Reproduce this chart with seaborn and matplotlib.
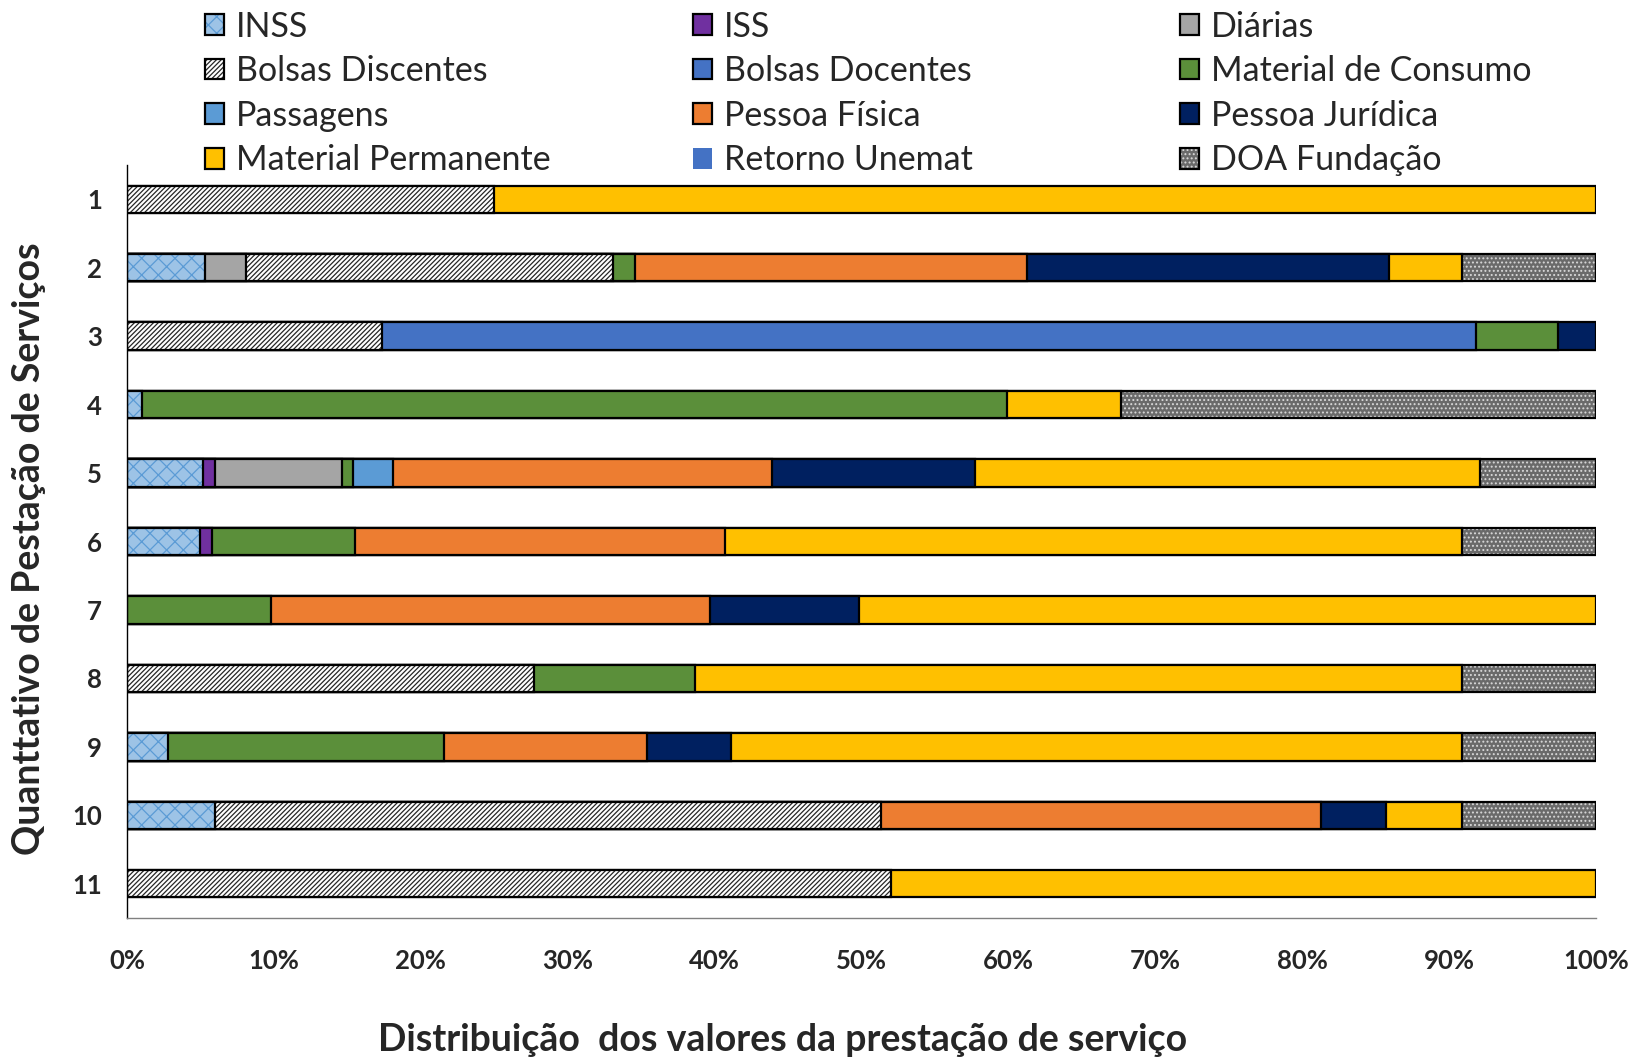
import matplotlib
matplotlib.use("Agg")
import matplotlib.pyplot as plt
from matplotlib.patches import Patch
from matplotlib.legend_handler import HandlerTuple
from matplotlib.ticker import PercentFormatter
import numpy as np
import pandas as pd
import seaborn as sns

# linhas do grafico (quantitativo de prestacao de servicos)
linhas = [str(i) for i in range(1, 12)]

# valores em % de cada rubrica, por linha
inss = [0, 5.3, 0, 1.0, 5.2, 5.0, 0, 0, 2.8, 6.0, 0]
iss = [0, 0, 0, 0, 0.8, 0.8, 0, 0, 0, 0, 0]
diarias = [0, 2.8, 0, 0, 8.6, 0, 0, 0, 0, 0, 0]
bolsas_discentes = [25.0, 25.0, 17.4, 0, 0, 0, 0, 27.7, 0, 45.3, 52.0]
bolsas_docentes = [0, 0, 74.5, 0, 0, 0, 0, 0, 0, 0, 0]
material_consumo = [0, 1.5, 5.6, 58.9, 0.8, 9.7, 9.8, 10.9, 18.8, 0, 0]
passagens = [0, 0, 0, 0, 2.7, 0, 0, 0, 0, 0, 0]
pessoa_fisica = [0, 26.7, 0, 0, 25.8, 25.2, 29.9, 0, 13.8, 30.0, 0]
pessoa_juridica = [0, 24.6, 2.6, 0, 13.8, 0, 10.1, 0, 5.7, 4.4, 0]
material_permanente = [75.0, 5.0, 0, 7.8, 34.4, 50.2, 50.2, 52.2, 49.8, 5.2, 48.0]
retorno_unemat = [0, 0, 0, 0, 0, 0, 0, 0, 0, 0, 0]
doa_fundacao = [0, 9.1, 0, 32.3, 7.9, 9.1, 0, 9.1, 9.1, 9.1, 0]

categorias = ["INSS", "ISS", "Diárias", "Bolsas Discentes", "Bolsas Docentes",
              "Material de Consumo", "Passagens", "Pessoa Física", "Pessoa Jurídica",
              "Material Permanente", "Retorno Unemat", "DOA Fundação"]
valores = [inss, iss, diarias, bolsas_discentes, bolsas_docentes, material_consumo,
           passagens, pessoa_fisica, pessoa_juridica, material_permanente,
           retorno_unemat, doa_fundacao]

# estilo de cada rubrica: (cor, hachura, cor da hachura, borda)
estilos = {
    "INSS": ("#9DC3E6", "xx", "#5B9BD5", True),
    "ISS": ("#7030A0", None, "#7030A0", True),
    "Diárias": ("#A5A5A5", None, "#A5A5A5", True),
    "Bolsas Discentes": ("#FFFFFF", "///////", "#262626", True),
    "Bolsas Docentes": ("#4472C4", None, "#4472C4", True),
    "Material de Consumo": ("#5B8F3A", None, "#5B8F3A", True),
    "Passagens": ("#5B9BD5", None, "#5B9BD5", True),
    "Pessoa Física": ("#ED7D31", None, "#ED7D31", True),
    "Pessoa Jurídica": ("#002060", None, "#002060", True),
    "Material Permanente": ("#FFC000", None, "#FFC000", True),
    "Retorno Unemat": ("#4472C4", None, "#4472C4", False),
    "DOA Fundação": ("#6A6A6A", "....", "#D8D8D8", True),
}

sns.set_theme(style="white")
plt.rcParams["font.family"] = ["Lato", "DejaVu Sans"]
plt.rcParams["hatch.linewidth"] = 0.9

fig = plt.figure(figsize=(16.33, 10.6), dpi=100)
ax = fig.add_axes([0.0778, 0.134, 0.8995, 0.7103])

tab = pd.DataFrame(dict(zip(categorias, valores)), index=linhas)
tab = tab.div(tab.sum(axis=1), axis=0) * 100
acum = tab.cumsum(axis=1)

# barras empilhadas: acumulados desenhados do maior para o menor
for cat in reversed(categorias):
    if tab[cat].sum() == 0:
        continue
    cor, hach, cor_h, borda = estilos[cat]
    d = pd.DataFrame({"linha": linhas, "v": acum[cat].where(tab[cat] > 0).values}).dropna()
    sns.barplot(data=d, x="v", y="linha", order=linhas, orient="h", width=0.4,
                errorbar=None, color=cor, saturation=1, hatch=hach,
                edgecolor=cor_h, linewidth=0, ax=ax)
    sns.barplot(data=d, x="v", y="linha", order=linhas, orient="h", width=0.4,
                errorbar=None, color=cor, saturation=1, facecolor="none",
                edgecolor="black", linewidth=1.6, ax=ax)

ax.set_xlim(0, 100)
ax.set_ylim(10.5, -0.5)
ax.xaxis.set_major_locator(plt.MultipleLocator(10))
ax.xaxis.set_major_formatter(PercentFormatter(100, decimals=0))
ax.set_xlabel("")
ax.set_ylabel("")
ax.tick_params(axis="x", length=0, pad=22, labelsize=18.5)
ax.tick_params(axis="y", length=0, pad=18, labelsize=18.5)
for t in ax.get_xticklabels() + ax.get_yticklabels():
    t.set_fontweight("bold")
for s in ["top", "right"]:
    ax.spines[s].set_visible(False)
ax.spines["left"].set_color("black")
ax.spines["left"].set_linewidth(1.0)
ax.spines["bottom"].set_color("#808080")
ax.spines["bottom"].set_linewidth(1.0)

fig.text(0.479, 0.019, "Distribuição  dos valores da prestação de serviço",
         ha="center", va="center", fontsize=27, fontweight="bold")
fig.text(0.018, 0.482, "Quanttativo de Pestação de Serviços", rotation=90,
         ha="center", va="center", fontsize=27, fontweight="bold")

# legenda em 3 colunas, lida por linha
def alca(cat):
    cor, hach, cor_h, borda = estilos[cat]
    fundo = Patch(facecolor=cor, hatch=hach, edgecolor=cor_h, linewidth=0)
    if not borda:
        return (fundo,)
    return (fundo, Patch(facecolor="none", edgecolor="black", linewidth=1.6))

colunas_x = [205 / 1633, 693 / 1633, 1180 / 1633]
for j, x0 in enumerate(colunas_x):
    cats = categorias[j::3]
    leg = fig.legend([alca(c) for c in cats], cats, loc="upper left",
                     bbox_to_anchor=(x0, 0.990), frameon=False, fontsize=24.5,
                     handlelength=0.55, handleheight=0.55, handletextpad=0.35,
                     labelspacing=0.37, borderpad=0, borderaxespad=0,
                     handler_map={tuple: HandlerTuple(ndivide=1)})

fig.savefig("out.png", dpi=100)
